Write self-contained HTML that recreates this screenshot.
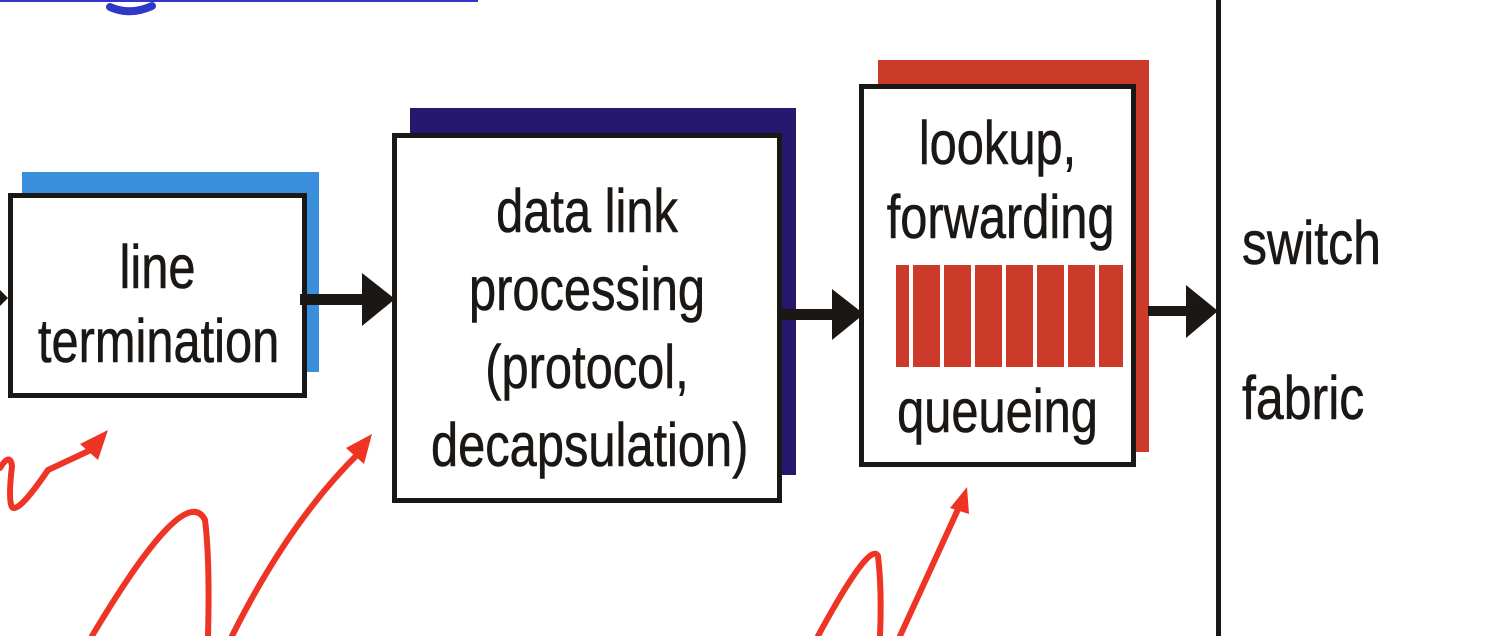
<!DOCTYPE html>
<html><head><meta charset="utf-8"><style>
html,body{margin:0;padding:0;background:#fff;width:1510px;height:636px;overflow:hidden;position:relative;font-family:"Liberation Sans",Arial,sans-serif}
.a{position:absolute}
.box{position:absolute;background:#fff;border:5px solid #1a1714;box-sizing:border-box}
.t{position:absolute;color:#1a1714;font-size:61px;white-space:nowrap;text-align:center;transform:scaleX(0.8);transform-origin:center top;-webkit-text-stroke:0.6px #1a1714}
</style></head><body>
<div class="a" style="left:0;top:0;width:478px;height:2px;background:#3535c8"></div>
<!-- line termination -->
<div class="a" style="left:22px;top:172px;width:297px;height:200px;background:#3a8fdc"></div>
<div class="box" style="left:8px;top:193px;width:299px;height:205px"></div>
<div class="t" style="left:8px;top:230px;width:299px;line-height:74px">line<br>termination</div>
<!-- data link -->
<div class="a" style="left:410px;top:108px;width:386px;height:367px;background:#25186e"></div>
<div class="box" style="left:392px;top:133px;width:390px;height:370px"></div>
<div class="t" style="left:392px;top:172px;width:390px;line-height:78px">data link<br>processing<br>(protocol,<br>decapsulation)</div>
<!-- lookup -->
<div class="a" style="left:878px;top:60px;width:271px;height:392px;background:#cc3a2a"></div>
<div class="box" style="left:859px;top:84px;width:277px;height:383px"></div>
<div class="t" style="left:859px;top:106px;width:277px;line-height:74px">lookup,<br>forwarding</div>
<div class="t" style="left:859px;top:374px;width:277px;line-height:74px">queueing</div>
<div class="a" style="left:896px;top:265px;width:13px;height:102px;background:#cc3a2a"></div>
<div class="a" style="left:913px;top:265px;width:27px;height:102px;background:#cc3a2a"></div>
<div class="a" style="left:944px;top:265px;width:27px;height:102px;background:#cc3a2a"></div>
<div class="a" style="left:975px;top:265px;width:27px;height:102px;background:#cc3a2a"></div>
<div class="a" style="left:1006px;top:265px;width:27px;height:102px;background:#cc3a2a"></div>
<div class="a" style="left:1037px;top:265px;width:27px;height:102px;background:#cc3a2a"></div>
<div class="a" style="left:1068px;top:265px;width:27px;height:102px;background:#cc3a2a"></div>
<div class="a" style="left:1099px;top:265px;width:24px;height:102px;background:#cc3a2a"></div>
<!-- switch fabric -->
<div class="t" style="left:1242px;top:206px;transform-origin:left top;line-height:74px;transform:scaleX(0.82)">switch</div>
<div class="t" style="left:1242px;top:361px;transform-origin:left top;line-height:74px;transform:scaleX(0.82)">fabric</div>
<svg class="a" style="left:0;top:0" width="1510" height="636">
<path d="M110 7 Q130 16 152 6" stroke="#3038c8" stroke-width="8" fill="none" stroke-linecap="round"/>
<g stroke="#ee3424" stroke-width="6" fill="none" stroke-linecap="round">
<path d="M0 468 Q10 452 12 466 Q8 500 12 507 Q18 514 48 470 L95 448"/>
<path d="M92 636 Q185 480 205 520 Q210 560 208 636"/>
<path d="M232 636 Q290 520 360 452"/>
<path d="M818 636 Q870 540 878 556 Q882 590 880 636"/>
<path d="M900 636 Q935 560 960 505"/>
</g>
<g fill="#ee3424">
<polygon points="108,430 80,444 98,460"/>
<polygon points="372,434 346,448 364,464"/>
<polygon points="967,487 950,508 969,514"/>
</g>
<g fill="#1a1714">
<polygon points="0,290 8,298 0,306"/>
<rect x="300" y="294" width="70" height="11"/>
<polygon points="362,273 395,299 362,326"/>
<rect x="780" y="309" width="60" height="11"/>
<polygon points="832,289 864,314 832,340"/>
<rect x="1148" y="306" width="45" height="10"/>
<polygon points="1186,285 1218,311 1186,338"/>
<rect x="1216" y="0" width="5" height="636"/>
</g>
</svg>
</body></html>
